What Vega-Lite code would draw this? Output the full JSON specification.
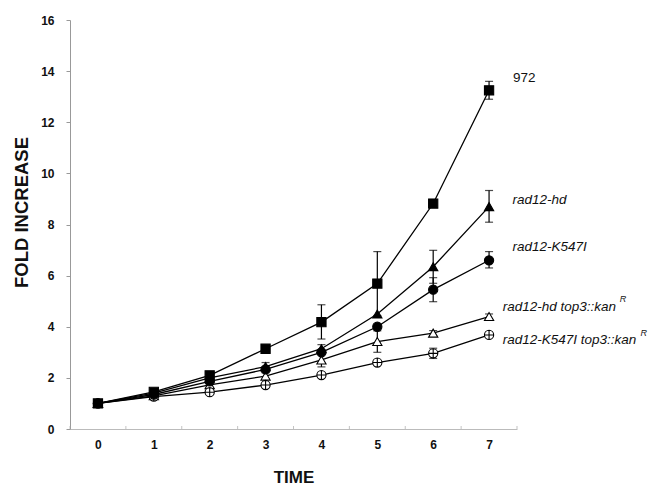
{
  "$schema": "https://vega.github.io/schema/vega-lite/v6.json",
  "width": 447,
  "height": 409,
  "autosize": {"type": "none"},
  "padding": {"left": 70, "top": 20, "right": 131, "bottom": 57},
  "background": "white",
  "config": {
    "view": {"stroke": null},
    "font": "Liberation Sans",
    "text": {"font": "Liberation Sans"}
  },
  "datasets": {
    "pts": [
      {"series": "972", "t": 0, "v": 1.0}, {"series": "972", "t": 1, "v": 1.45}, {"series": "972", "t": 2, "v": 2.1}, {"series": "972", "t": 3, "v": 3.14}, {"series": "972", "t": 4, "v": 4.18}, {"series": "972", "t": 5, "v": 5.69}, {"series": "972", "t": 6, "v": 8.82}, {"series": "972", "t": 7, "v": 13.25},
      {"series": "rad12-hd", "t": 0, "v": 1.0}, {"series": "rad12-hd", "t": 1, "v": 1.4}, {"series": "rad12-hd", "t": 2, "v": 2.0}, {"series": "rad12-hd", "t": 3, "v": 2.44}, {"series": "rad12-hd", "t": 4, "v": 3.14}, {"series": "rad12-hd", "t": 5, "v": 4.5}, {"series": "rad12-hd", "t": 6, "v": 6.35}, {"series": "rad12-hd", "t": 7, "v": 8.7},
      {"series": "rad12-K547I", "t": 0, "v": 1.0}, {"series": "rad12-K547I", "t": 1, "v": 1.35}, {"series": "rad12-K547I", "t": 2, "v": 1.86}, {"series": "rad12-K547I", "t": 3, "v": 2.33}, {"series": "rad12-K547I", "t": 4, "v": 3.0}, {"series": "rad12-K547I", "t": 5, "v": 4.0}, {"series": "rad12-K547I", "t": 6, "v": 5.45}, {"series": "rad12-K547I", "t": 7, "v": 6.6},
      {"series": "rad12-hd top3", "t": 0, "v": 1.0}, {"series": "rad12-hd top3", "t": 1, "v": 1.3}, {"series": "rad12-hd top3", "t": 2, "v": 1.73}, {"series": "rad12-hd top3", "t": 3, "v": 2.07}, {"series": "rad12-hd top3", "t": 4, "v": 2.7}, {"series": "rad12-hd top3", "t": 5, "v": 3.42}, {"series": "rad12-hd top3", "t": 6, "v": 3.75}, {"series": "rad12-hd top3", "t": 7, "v": 4.4},
      {"series": "rad12-K547I top3", "t": 0, "v": 1.0}, {"series": "rad12-K547I top3", "t": 1, "v": 1.27}, {"series": "rad12-K547I top3", "t": 2, "v": 1.44}, {"series": "rad12-K547I top3", "t": 3, "v": 1.72}, {"series": "rad12-K547I top3", "t": 4, "v": 2.11}, {"series": "rad12-K547I top3", "t": 5, "v": 2.6}, {"series": "rad12-K547I top3", "t": 6, "v": 2.96}, {"series": "rad12-K547I top3", "t": 7, "v": 3.68}
    ],
    "errs": [
      {"series": "972", "t": 4, "lo": 3.52, "hi": 4.86}, {"series": "972", "t": 5, "lo": 4.44, "hi": 6.94}, {"series": "972", "t": 7, "lo": 12.9, "hi": 13.6},
      {"series": "rad12-hd", "t": 3, "lo": 2.28, "hi": 2.6}, {"series": "rad12-hd", "t": 4, "lo": 2.98, "hi": 3.3}, {"series": "rad12-hd", "t": 6, "lo": 5.7, "hi": 6.99}, {"series": "rad12-hd", "t": 7, "lo": 8.09, "hi": 9.33},
      {"series": "rad12-K547I", "t": 6, "lo": 4.98, "hi": 5.92}, {"series": "rad12-K547I", "t": 7, "lo": 6.3, "hi": 6.94},
      {"series": "rad12-hd top3", "t": 3, "lo": 1.95, "hi": 2.2}, {"series": "rad12-hd top3", "t": 4, "lo": 2.43, "hi": 2.97}, {"series": "rad12-hd top3", "t": 5, "lo": 3.0, "hi": 3.84}, {"series": "rad12-hd top3", "t": 6, "lo": 3.65, "hi": 3.85}, {"series": "rad12-hd top3", "t": 7, "lo": 4.3, "hi": 4.5},
      {"series": "rad12-K547I top3", "t": 6, "lo": 2.76, "hi": 3.16}
    ],
    "labels": [
      {"label": "972", "lx": 7.43, "ly": 13.73, "kind": "plain"},
      {"label": "rad12-hd", "lx": 7.42, "ly": 8.96, "kind": "italic"},
      {"label": "rad12-K547I", "lx": 7.42, "ly": 7.13, "kind": "italic"},
      {"label": "rad12-hd top3::kan", "lx": 7.245, "ly": 4.78, "kind": "italic"},
      {"label": "rad12-K547I top3::kan", "lx": 7.245, "ly": 3.48, "kind": "italic"}
    ],
    "sups": [
      {"label": "R", "lx": 9.34, "ly": 5.09},
      {"label": "R", "lx": 9.71, "ly": 3.76}
    ],
    "halfticks": [
      {"t": -0.5}, {"t": 0.5}, {"t": 1.5}, {"t": 2.5}, {"t": 3.5}, {"t": 4.5}, {"t": 5.5}, {"t": 6.5}, {"t": 7.5}
    ]
  },
  "layer": [
    {
      "data": {"name": "pts"},
      "mark": {"type": "line", "color": "black", "strokeWidth": 1.3},
      "encoding": {
        "x": {"field": "t", "type": "quantitative", "scale": {"domain": [-0.5, 7.5], "nice": false, "zero": false},
          "axis": {"orient": "bottom", "values": [0, 1, 2, 3, 4, 5, 6, 7], "format": "d", "ticks": false, "tickSize": 0, "grid": false,
            "domain": true, "domainColor": "#bbbbbb", "domainWidth": 1,
            "labelFont": "Liberation Sans", "labelFontWeight": "bold", "labelFontSize": 12, "labelColor": "#111111", "labelPadding": 10, "labelBaseline": "top",
            "title": "TIME", "titleFont": "Liberation Sans", "titleFontWeight": "bold", "titleFontSize": 17, "titleColor": "#111111",
            "titleBaseline": "alphabetic", "titleY": 53}},
        "y": {"field": "v", "type": "quantitative", "scale": {"domain": [0, 16], "nice": false, "zero": true},
          "axis": {"orient": "left", "values": [0, 2, 4, 6, 8, 10, 12, 14, 16], "grid": false,
            "domain": true, "domainColor": "#999999", "domainWidth": 1, "ticks": true, "tickColor": "#999999", "tickSize": 4,
            "labelFont": "Liberation Sans", "labelFontWeight": "bold", "labelFontSize": 12, "labelColor": "#111111", "labelPadding": 12,
            "title": "FOLD INCREASE", "titleFont": "Liberation Sans", "titleFontWeight": "bold", "titleFontSize": 18.5, "titleColor": "#111111",
            "titleBaseline": "alphabetic", "titleX": -43, "titleY": 192, "titleAlign": "center", "titleAngle": -90}},
        "detail": {"field": "series"}
      }
    },
    {
      "data": {"name": "halfticks"},
      "mark": {"type": "tick", "orient": "vertical", "size": 3, "thickness": 1, "color": "#aaaaaa", "yOffset": -1.5},
      "encoding": {
        "x": {"field": "t", "type": "quantitative"},
        "y": {"datum": 0, "type": "quantitative"}
      }
    },
    {
      "data": {"name": "errs"},
      "mark": {"type": "rule", "color": "black", "strokeWidth": 1.2},
      "encoding": {
        "x": {"field": "t", "type": "quantitative"},
        "y": {"field": "lo", "type": "quantitative"},
        "y2": {"field": "hi"}
      }
    },
    {
      "data": {"name": "errs"},
      "mark": {"type": "tick", "orient": "horizontal", "size": 8, "thickness": 1.2, "color": "black"},
      "encoding": {
        "x": {"field": "t", "type": "quantitative"},
        "y": {"field": "lo", "type": "quantitative"}
      }
    },
    {
      "data": {"name": "errs"},
      "mark": {"type": "tick", "orient": "horizontal", "size": 8, "thickness": 1.2, "color": "black"},
      "encoding": {
        "x": {"field": "t", "type": "quantitative"},
        "y": {"field": "hi", "type": "quantitative"}
      }
    },
    {
      "data": {"name": "pts"},
      "mark": {"type": "point", "filled": false, "stroke": "black", "strokeWidth": 1.1, "opacity": 1, "size": 85},
      "encoding": {
        "x": {"field": "t", "type": "quantitative"},
        "y": {"field": "v", "type": "quantitative"},
        "order": {"field": "series", "sort": "descending"},
        "shape": {"field": "series", "type": "nominal", "legend": null,
          "scale": {"domain": ["972", "rad12-hd", "rad12-K547I", "rad12-hd top3", "rad12-K547I top3"],
            "range": ["square", "triangle-up", "circle", "triangle-up", "M-1,0A1,1,0,1,1,1,0A1,1,0,1,1,-1,0ZM-1,0L1,0M0,-1L0,1"]}},
        "fill": {"field": "series", "type": "nominal", "legend": null,
          "scale": {"domain": ["972", "rad12-hd", "rad12-K547I", "rad12-hd top3", "rad12-K547I top3"],
            "range": ["black", "black", "black", "white", "white"]}}
      }
    },
    {
      "data": {"name": "labels"},
      "transform": [{"filter": "datum.kind === 'plain'"}],
      "mark": {"type": "text", "align": "left", "baseline": "middle", "font": "Liberation Sans", "fontSize": 13.5, "color": "#111111"},
      "encoding": {
        "x": {"field": "lx", "type": "quantitative"},
        "y": {"field": "ly", "type": "quantitative"},
        "text": {"field": "label"}
      }
    },
    {
      "data": {"name": "labels"},
      "transform": [{"filter": "datum.kind === 'italic'"}],
      "mark": {"type": "text", "align": "left", "baseline": "middle", "font": "Liberation Sans", "fontStyle": "italic", "fontSize": 13.5, "color": "#111111"},
      "encoding": {
        "x": {"field": "lx", "type": "quantitative"},
        "y": {"field": "ly", "type": "quantitative"},
        "text": {"field": "label"}
      }
    },
    {
      "data": {"name": "sups"},
      "mark": {"type": "text", "align": "left", "baseline": "middle", "font": "Liberation Sans", "fontStyle": "italic", "fontSize": 9, "color": "#111111"},
      "encoding": {
        "x": {"field": "lx", "type": "quantitative"},
        "y": {"field": "ly", "type": "quantitative"},
        "text": {"field": "label"}
      }
    }
  ]
}
